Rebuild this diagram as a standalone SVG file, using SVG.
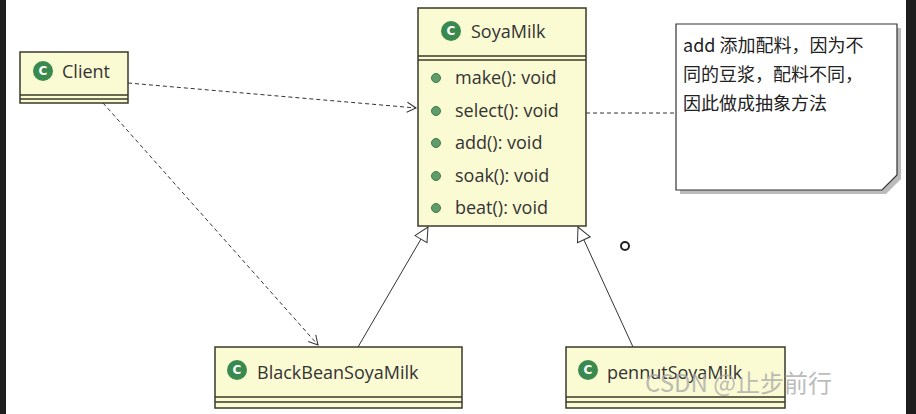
<svg xmlns="http://www.w3.org/2000/svg" width="916" height="414" viewBox="0 0 916 414">
<style>
.box{fill:#fbfbd3;stroke:#3a3a2a;stroke-width:1.5}
.ln{stroke:#3a3a2a;stroke-width:1.5}
.t{font-family:"Open Sans","Noto Sans",sans-serif;font-size:18px;fill:#333}
.n{font-family:"Noto Sans CJK SC",sans-serif;font-size:18px;fill:#222}
.dash{fill:none;stroke:#333;stroke-width:1;stroke-dasharray:4,3}
.solid{fill:none;stroke:#333;stroke-width:1}
.dot{fill:#5e9c6c;stroke:#3d7a4a;stroke-width:1}
.ic{fill:#3a8a50}
.ict{font-family:"DejaVu Sans",sans-serif;font-size:12px;font-weight:bold;fill:#fff}
</style>
<defs>
<marker id="open" markerWidth="12" markerHeight="12" refX="10" refY="6" orient="auto" markerUnits="userSpaceOnUse"><path d="M1,1 L10,6 L1,11" fill="none" stroke="#333" stroke-width="1"/></marker>
<marker id="tri" markerWidth="20" markerHeight="20" refX="15" refY="8" orient="auto" markerUnits="userSpaceOnUse"><path d="M1,1 L15,8 L1,15 Z" fill="#fff" stroke="#333" stroke-width="1"/></marker>
</defs>
<rect width="916" height="414" fill="#fff"/>
<rect x="0" y="0" width="6" height="414" fill="#1e1e1e"/>
<rect x="906" y="0" width="10" height="414" fill="#1e1e1e"/>
<g id="connectors">
<path class="dash" d="M128,83 L416,108" marker-end="url(#open)"/>
<path class="dash" d="M103,103 L318,345" marker-end="url(#open)"/>
<path class="solid" d="M358,347 L428,227" marker-end="url(#tri)"/>
<path class="solid" d="M633,347 L578,227" marker-end="url(#tri)"/>
<path class="dash" d="M586,113 L676,113"/>
</g>
<g id="client">
<rect class="box" x="20" y="52" width="108" height="51"/>
<line class="ln" x1="20" y1="95" x2="128" y2="95"/><line class="ln" x1="20" y1="99" x2="128" y2="99"/>
<circle class="ic" cx="43" cy="71" r="10"/><text class="ict" x="43" y="75" text-anchor="middle">C</text>
<text class="t" x="62" y="78">Client</text>
</g>
<g id="soyamilk">
<rect class="box" x="418" y="8" width="168" height="218"/>
<line class="ln" x1="418" y1="56" x2="586" y2="56"/><line class="ln" x1="418" y1="60" x2="586" y2="60"/>
<circle class="ic" cx="451" cy="31" r="10"/><text class="ict" x="451" y="35" text-anchor="middle">C</text>
<text class="t" x="471" y="38">SoyaMilk</text>
<circle class="dot" cx="436" cy="78" r="4.5"/><text class="t" x="455" y="84">make(): void</text>
<circle class="dot" cx="436" cy="111" r="4.5"/><text class="t" x="455" y="117">select(): void</text>
<circle class="dot" cx="436" cy="143" r="4.5"/><text class="t" x="455" y="149">add(): void</text>
<circle class="dot" cx="436" cy="176" r="4.5"/><text class="t" x="455" y="182">soak(): void</text>
<circle class="dot" cx="436" cy="208" r="4.5"/><text class="t" x="455" y="214">beat(): void</text>
</g>
<g id="note">
<path d="M680,28 L901,28 L901,179 L886,194 L680,194 Z" fill="#bbb"/>
<path d="M676,24 L897,24 L897,175 L882,190 L676,190 Z" fill="#fff" stroke="#333" stroke-width="1.2"/>
<text class="n" x="683" y="52">add 添加配料，因为不</text>
<text class="n" x="683" y="81">同的豆浆，配料不同，</text>
<text class="n" x="683" y="110">因此做成抽象方法</text>
</g>
<g id="blackbean">
<rect class="box" x="215" y="347" width="247" height="61"/>
<line class="ln" x1="215" y1="397" x2="462" y2="397"/><line class="ln" x1="215" y1="402" x2="462" y2="402"/>
<circle class="ic" cx="237" cy="370" r="10"/><text class="ict" x="237" y="374" text-anchor="middle">C</text>
<text class="t" x="257" y="379">BlackBeanSoyaMilk</text>
</g>
<g id="pennut">
<rect class="box" x="566" y="347" width="219" height="61"/>
<line class="ln" x1="566" y1="397" x2="785" y2="397"/><line class="ln" x1="566" y1="402" x2="785" y2="402"/>
<circle class="ic" cx="588" cy="370" r="10"/><text class="ict" x="588" y="374" text-anchor="middle">C</text>
<text class="t" x="607" y="379">pennutSoyaMilk</text>
</g>
<circle cx="625" cy="246" r="4" fill="none" stroke="#222" stroke-width="2"/>
<text x="645" y="392" font-family="'Noto Sans CJK SC',sans-serif" font-size="24" fill="#aaa" fill-opacity="0.8">CSDN @止步前行</text>
</svg>
